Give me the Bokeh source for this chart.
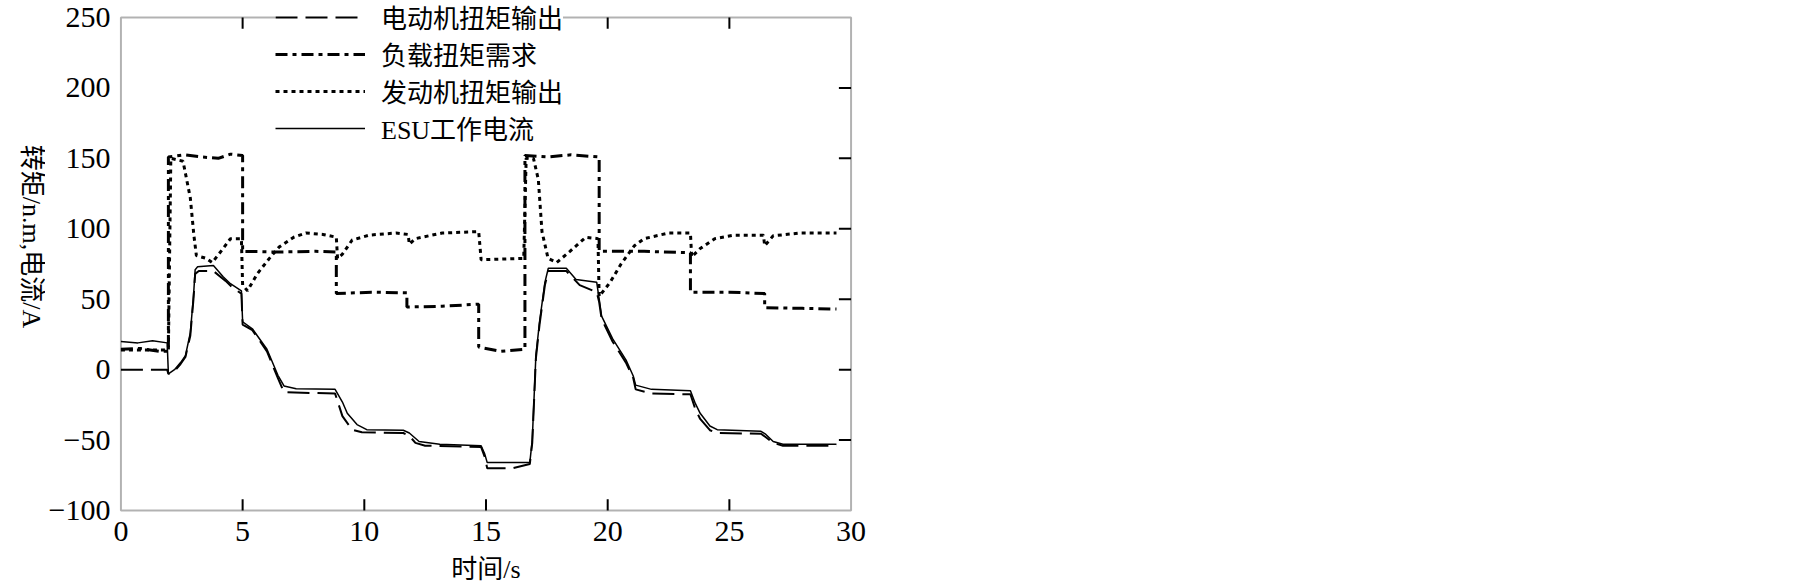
from bokeh.plotting import figure
from bokeh.layouts import row
from bokeh.models import (Range1d, FixedTicker, Legend, LegendItem, BoxAnnotation)
from bokeh.core.properties import value
from bokeh.embed import file_html
from bokeh.resources import INLINE
import math

# ---------------- data ----------------
x_ticks = [0, 5, 10, 15, 20, 25, 30]
y_ticks = [-100, -50, 0, 50, 100, 150, 200, 250]
y_tick_labels = {-100: "\u2212100", -50: "\u221250", 0: "0", 50: "50",
                 100: "100", 150: "150", 200: "200", 250: "250"}

series_names = ["电动机扭矩输出", "负载扭矩需求", "发动机扭矩输出", "ESU工作电流"]
x_title = "时间/s"
y_title = "转矩/n.m,电流/A"

# 负载扭矩需求 (load torque demand)
load_t = [0, 0.8, 1.2, 1.6, 1.95, 1.95, 2.6, 3.3, 4.0, 4.5, 5.0, 5.0, 6.5, 8.0, 8.85, 8.85,
          10.3, 11.75, 11.75, 13.2, 14.7, 14.7, 15.6, 16.6, 16.6, 17.5, 18.5, 19.65, 19.65,
          21.5, 23.4, 23.4, 25.0, 26.45, 26.45, 28.0, 29.4]
load_v = [14.5, 15, 14, 13, 13, 151, 152.5, 151, 150, 153, 152, 84, 83.5, 84, 83.5, 54,
          55, 54.5, 44.5, 45, 46.5, 16, 13, 14.5, 152, 151, 152.5, 151, 84,
          84, 83, 55, 55, 54, 44, 43.5, 43]

# 发动机扭矩输出 (engine torque output)
eng_t = [0, 1.95, 2.05, 2.55, 2.85, 3.0, 3.1, 3.5, 3.75, 4.2,
         4.5, 4.95, 5.0, 5.2, 5.6, 6.1, 6.5, 7.1, 7.6, 8.3,
         8.85, 8.9, 9.1, 9.5, 10.2, 11.3, 11.8, 11.85, 12.1, 13.2,
         14.7, 14.8, 16.55, 16.65, 16.95, 17.15, 17.3, 17.55, 17.9, 18.45,
         19.1, 19.6, 19.65, 20.1, 20.55, 21.1, 21.5, 22.5, 23.4, 23.45,
         23.8, 24.4, 25.2, 26.4, 26.45, 26.8, 27.9, 29.4]
eng_v = [14, 14, 150, 148, 122, 95, 81, 79, 76, 86,
         93, 93, 60, 56, 68, 79, 87, 94, 97, 96,
         94, 79, 82, 92, 95.5, 97, 96, 89, 93, 97,
         98, 78, 79, 150, 150, 135, 98, 79, 76, 84,
         94, 93, 52, 62, 75, 88, 93, 97, 97, 80,
         86, 93, 95.5, 95.5, 88, 95, 97, 97]

# ESU工作电流 (ESU current)
esu_t = [0, 0.7, 1.3, 1.9, 1.95, 2.2, 2.45, 2.65, 2.85, 2.98,
         3.05, 3.15, 3.8, 4.2, 4.5, 4.95, 5.0, 5.4, 6.0, 6.45,
         6.7, 7.2, 8.8, 9.1, 9.3, 9.7, 10.1, 11.6, 11.85, 12.25,
         13.1, 14.8, 14.95, 15.05, 16.8, 16.9, 17.05, 17.2, 17.42, 17.56,
         18.3, 18.7, 19.55, 19.65, 19.75, 20.2, 20.75, 21.05, 21.15, 21.8,
         23.4, 23.6, 23.8, 24.2, 24.5, 26.3, 26.5, 26.8, 27.2, 29.4]
esu_v = [20, 19, 20.5, 19, -3, 0, 5, 10, 26, 52,
         71, 73, 74, 66, 61, 56, 34, 29, 14.5, -4,
         -11.6, -13.6, -14, -23, -31, -39, -42.6, -43, -45, -51,
         -53, -54, -60, -66, -66, -50, 10, 34, 62, 72,
         72, 64, 62, 50, 38, 22, 7, -4.5, -11, -14,
         -15, -24, -31, -40, -42.6, -43.8, -46, -51, -53, -53]

# 电动机扭矩输出 (motor torque output)
mot_t = [0, 1.9, 1.95, 2.2, 2.45, 2.65, 2.85, 2.98, 3.05, 3.2,
         3.8, 4.3, 4.6, 4.95, 5.0, 5.4, 6.0, 6.45, 6.7, 8.8,
         9.1, 9.5, 9.9, 11.6, 11.85, 12.1, 12.5, 14.8, 14.95, 15.05,
         16.1, 16.8, 16.9, 17.05, 17.2, 17.42, 17.56, 18.3, 18.85, 19.55,
         19.65, 19.75, 20.2, 20.75, 21.05, 21.15, 21.8, 23.4, 23.6, 23.8,
         24.2, 24.5, 26.3, 26.5, 26.8, 27.2, 29.4]
mot_v = [0, 0, -3, -1, 4, 9, 24, 50, 68, 70,
         70, 63, 58, 54, 32, 28, 13, -6, -16, -17,
         -33, -42.6, -44.5, -45, -47, -52, -54, -55, -62, -70,
         -70, -67, -52, 8, 32, 60, 70, 70, 60, 55,
         48, 36, 20, 5, -6, -14, -17, -17.5, -28, -35,
         -43, -45, -45.5, -48, -52, -54, -54]

# ---------------- figure ----------------
SERIF = "Liberation Serif, Noto Sans CJK SC"
X0, X1, Y0, Y1 = 0, 30, -100, 250   # axes box (data)
H = 586
BOTTOM = 74
LEFT_W = 45

yr = Range1d(-101.42, 262.07)

p = figure(width=900 - LEFT_W, height=H, output_backend="svg", toolbar_location=None,
           x_range=Range1d(-0.1, 30.1), y_range=yr,
           min_border_left=70, min_border_top=0, min_border_right=47,
           min_border_bottom=BOTTOM, x_axis_label=x_title)
p.outline_line_color = None
p.grid.visible = False
p.background_fill_color = "white"
p.border_fill_color = "white"

def style_axis(ax, standoff):
    ax.axis_line_color = None
    ax.major_tick_line_color = None
    ax.minor_tick_line_color = None
    ax.major_tick_in = 0
    ax.major_tick_out = 0
    ax.minor_tick_in = 0
    ax.minor_tick_out = 0
    ax.major_label_text_font = "Liberation Serif"
    ax.major_label_text_font_size = "30px"
    ax.major_label_text_color = "black"
    ax.major_label_standoff = standoff
    ax.axis_label_text_font = SERIF
    ax.axis_label_text_font_style = "normal"
    ax.axis_label_text_color = "black"

xa = p.xaxis[0]
xa.ticker = FixedTicker(ticks=x_ticks)
style_axis(xa, 9)
xa.axis_label_text_font_size = "26px"
xa.axis_label_standoff = 11

ya = p.yaxis[0]
ya.ticker = FixedTicker(ticks=y_ticks)
ya.major_label_overrides = y_tick_labels
style_axis(ya, 8)

# axes box
p.add_layout(BoxAnnotation(left=X0, right=X1, bottom=Y0, top=Y1,
                           fill_alpha=0, fill_color=None,
                           line_color="black", line_width=2))

# inward tick marks on bottom, top and right edges
inner_x = x_ticks[1:-1]
inner_y = y_ticks[1:-1]
p.segment(x0=inner_x, y0=[Y0] * len(inner_x), x1=inner_x, y1=[Y0 + 8] * len(inner_x),
          line_color="black", line_width=2)
p.segment(x0=inner_x, y0=[Y1] * len(inner_x), x1=inner_x, y1=[Y1 - 8] * len(inner_x),
          line_color="black", line_width=2)
p.segment(x0=[X1] * len(inner_y), y0=inner_y, x1=[X1 - 0.5] * len(inner_y), y1=inner_y,
          line_color="black", line_width=2)

# ---------------- lines ----------------
r_eng = p.line(eng_t, eng_v, line_color="black", line_width=3, line_dash="4 4")
r_load = p.line(load_t, load_v, line_color="black", line_width=3, line_dash="12 5 4 5")
r_mot = p.line(mot_t, mot_v, line_color="black", line_width=2, line_dash="22 8")
r_esu = p.line(esu_t, esu_v, line_color="black", line_width=1.5)

legend = Legend(
    items=[LegendItem(label=series_names[0], renderers=[r_mot]),
           LegendItem(label=series_names[1], renderers=[r_load]),
           LegendItem(label=series_names[2], renderers=[r_eng]),
           LegendItem(label=series_names[3], renderers=[r_esu])],
    location=(157, 366), padding=20, spacing=0, margin=0,
    glyph_width=90, glyph_height=30, label_height=30, label_standoff=16,
    label_text_font=SERIF, label_text_font_size="26px", label_text_color="black",
    background_fill_color="white", background_fill_alpha=1.0,
    border_line_color=None)
p.add_layout(legend)

# ---------------- y-axis title (vertical, reading top to bottom) ----------------
yl = figure(width=LEFT_W, height=H, output_backend="svg", toolbar_location=None,
            x_range=Range1d(0, LEFT_W), y_range=yr,
            x_axis_type=None, y_axis_type=None,
            min_border_left=0, min_border_right=0, min_border_top=0,
            min_border_bottom=BOTTOM)
yl.outline_line_color = None
yl.grid.visible = False
yl.text(x=[31], y=[94.5], text=[y_title], angle=-math.pi / 2,
        text_align="center", text_baseline="middle",
        text_font=value(SERIF), text_font_size="26px", text_color="black")

layout = row(yl, p, spacing=0)
open("out.html", "w").write(file_html(layout, INLINE))
